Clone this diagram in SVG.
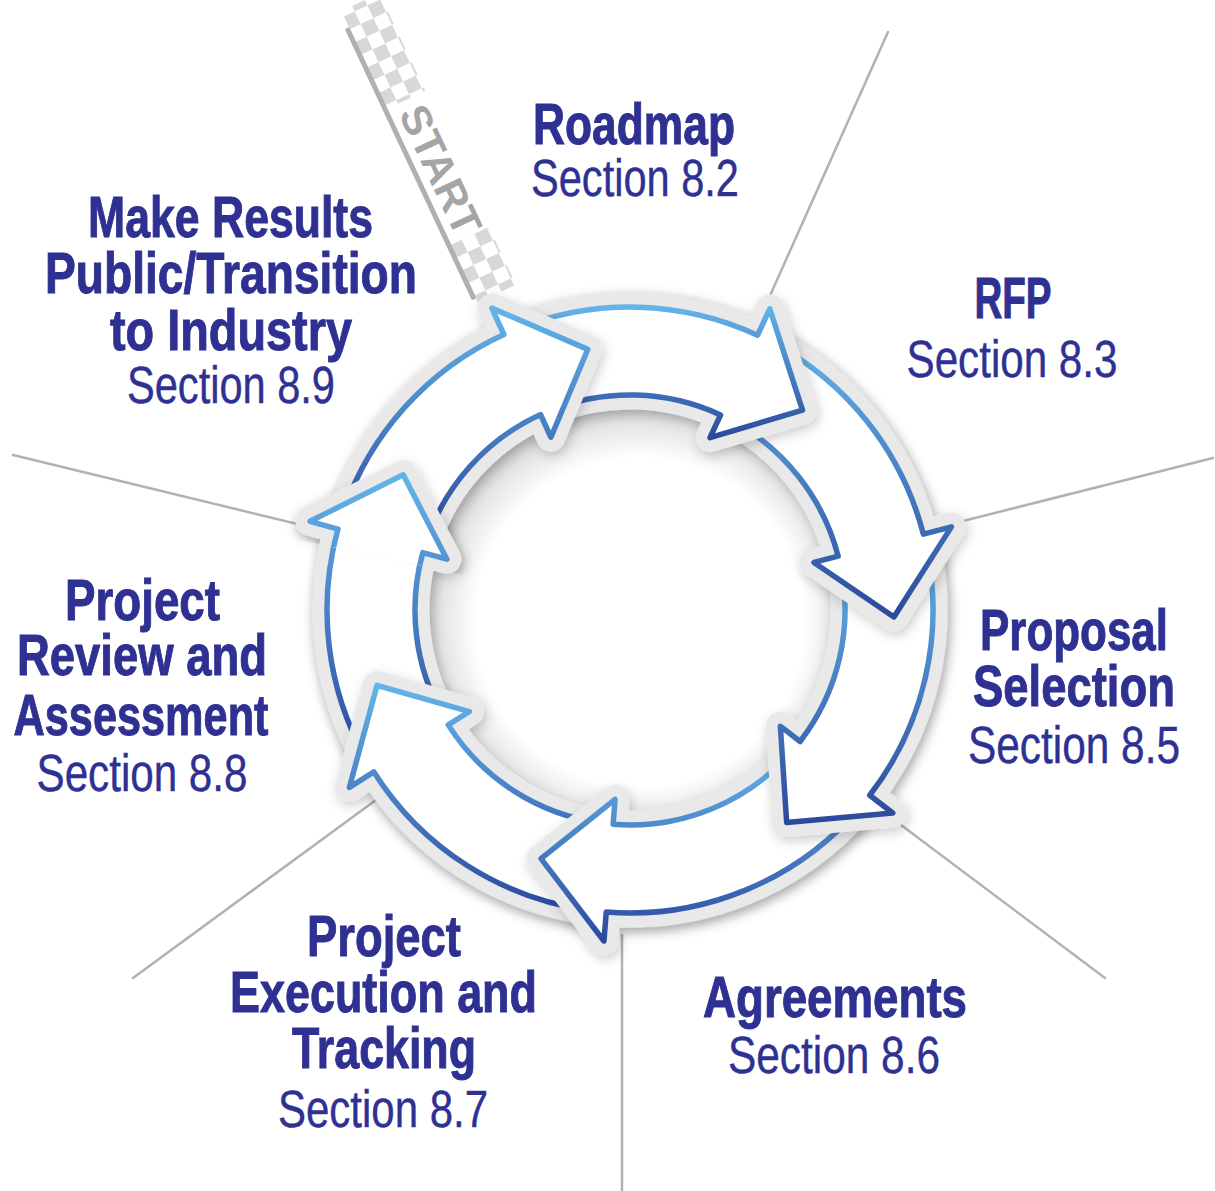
<svg xmlns="http://www.w3.org/2000/svg" width="1215" height="1191" viewBox="0 0 1215 1191">
  <style>
    .div { stroke: #b2b2b2; stroke-width: 2.5; fill: none; stroke-linecap: round; }
    .halo { fill: #e9e9e9; stroke: #e9e9e9; stroke-width: 29; stroke-linejoin: round; }
    .arw { fill: #ffffff; stroke: url(#blueGrad); stroke-width: 5.5; stroke-linejoin: round; }
    .tb { font-family: "Liberation Sans", Arial, sans-serif; font-weight: 700; font-size: 57px; fill: #2e3192; stroke: #2e3192; stroke-width: 1; text-anchor: middle; }
    .tr { font-family: "Liberation Sans", Arial, sans-serif; font-weight: 400; font-size: 51px; fill: #2e3192; stroke: #2e3192; stroke-width: 0.4; text-anchor: middle; }
  </style>
  <defs>
    <linearGradient id="blueGrad" x1="0" y1="0" x2="0" y2="1">
      <stop offset="0" stop-color="#63b4ea"/>
      <stop offset="1" stop-color="#2c4a9d"/>
    </linearGradient>
    <radialGradient id="holeGrad" gradientUnits="userSpaceOnUse" cx="640" cy="622" r="216">
      <stop offset="0" stop-color="#ffffff"/>
      <stop offset="0.76" stop-color="#ffffff"/>
      <stop offset="0.92" stop-color="#e4e4e4"/>
      <stop offset="1" stop-color="#c6c6c6"/>
    </radialGradient>
    <filter id="shadow" x="-30%" y="-30%" width="160%" height="160%">
      <feDropShadow dx="2" dy="4" stdDeviation="6" flood-color="#000" flood-opacity="0.2"/>
    </filter>
    <pattern id="checker" patternUnits="userSpaceOnUse" width="28" height="28">
      <rect x="0" y="0" width="14" height="14" fill="#d8d8d8"/>
      <rect x="14" y="14" width="14" height="14" fill="#d8d8d8"/>
    </pattern>
    <clipPath id="headClipG">
      <polygon points="630,610 219,523 290,363"/>
    </clipPath>
    <!-- arrow outlines: body arc from tail to head base, then the arrowhead -->
    <path id="pA" d="M342.66,513.86 A303,303 0 0 1 503.87,334.50 L491.79,308.13 L587.79,349.40 L550.91,437.25 L540.50,414.51 A215,215 0 0 0 426.11,541.78 Z"/>
    <path id="pB" d="M518.46,328.28 A303,303 0 0 1 757.57,335.17 L769.78,308.86 L802.50,410.15 L710.00,437.66 L720.52,414.99 A215,215 0 0 0 550.85,410.10 Z"/>
    <path id="pC" d="M771.78,342.22 A303,303 0 0 1 923.35,534.14 L951.43,526.87 L893.91,616.91 L813.95,562.43 L838.15,556.17 A215,215 0 0 0 730.60,419.99 Z"/>
    <path id="pD" d="M926.92,549.59 A303,303 0 0 1 869.74,795.29 L892.69,813.03 L786.66,822.49 L780.33,726.19 L800.11,741.48 A215,215 0 0 0 840.68,567.14 Z"/>
    <path id="pE" d="M859.71,807.59 A303,303 0 0 1 606.23,912.07 L603.95,940.98 L541.01,858.55 L615.09,799.41 L613.13,824.34 A215,215 0 0 0 793.00,750.20 Z"/>
    <path id="pF" d="M590.45,910.41 A303,303 0 0 1 373.89,771.91 L349.37,787.41 L377.00,685.42 L469.40,711.53 L448.27,724.89 A215,215 0 0 0 601.94,823.16 Z"/>
    <path id="pG" d="M365.76,758.28 A303,303 0 0 1 338.02,529.03 L310.07,521.28 L403.23,474.82 L446.91,559.22 L422.82,552.54 A215,215 0 0 0 442.50,715.22 Z"/>
  </defs>

  <rect width="1215" height="1191" fill="#ffffff"/>

  <!-- sector dividers -->
  <g id="dividers">
    <line class="div" x1="888" y1="32" x2="760" y2="318"/>
    <line class="div" x1="1213" y1="458" x2="951" y2="524"/>
    <line class="div" x1="1105" y1="978" x2="885" y2="813"/>
    <line class="div" x1="622" y1="1191" x2="622" y2="935"/>
    <line class="div" x1="133" y1="978" x2="380" y2="797"/>
    <line class="div" x1="13" y1="455" x2="314" y2="528"/>
  </g>

  <!-- start flag strip -->
  <g id="start-strip" transform="translate(348,30) rotate(64.9)">
    <rect x="-20" y="-44" width="108" height="42" fill="url(#checker)"/>
    <rect x="238" y="-44" width="64" height="42" fill="url(#checker)"/>
    <line x1="0" y1="0" x2="295" y2="0" stroke="#b0b0b0" stroke-width="5" stroke-linecap="round"/>
    <text x="166" y="-10" font-family="Liberation Sans, Arial, sans-serif" font-weight="700" font-size="42" fill="#a5a5a5" text-anchor="middle" textLength="138" lengthAdjust="spacingAndGlyphs">START</text>
  </g>

  <!-- ring base and centre -->
  <circle cx="630" cy="610" r="259" fill="none" stroke="#e9e9e9" stroke-width="118" filter="url(#shadow)"/>
  <circle cx="630" cy="610" r="201" fill="url(#holeGrad)"/>

  <!-- cycle arrows, each head laid over the next arrow's tail -->
  <g id="cycle-arrows">
    <g id="arrow-review">
      <use href="#pG" class="halo" filter="url(#shadow)"/>
      <use href="#pG" class="arw"/>
    </g>
    <g id="arrow-execution">
      <use href="#pF" class="halo" filter="url(#shadow)"/>
      <use href="#pF" class="arw"/>
    </g>
    <g id="arrow-agreements">
      <use href="#pE" class="halo" filter="url(#shadow)"/>
      <use href="#pE" class="arw"/>
    </g>
    <g id="arrow-selection">
      <use href="#pD" class="halo" filter="url(#shadow)"/>
      <use href="#pD" class="arw"/>
    </g>
    <g id="arrow-rfp">
      <use href="#pC" class="halo" filter="url(#shadow)"/>
      <use href="#pC" class="arw"/>
    </g>
    <g id="arrow-roadmap">
      <use href="#pB" class="halo" filter="url(#shadow)"/>
      <use href="#pB" class="arw"/>
    </g>
    <g id="arrow-transition">
      <use href="#pA" class="halo" filter="url(#shadow)"/>
      <use href="#pA" class="arw"/>
    </g>
    <!-- head of the review arrow sits above the transition arrow's tail -->
    <g id="arrow-review-head" clip-path="url(#headClipG)">
      <use href="#pG" class="halo" filter="url(#shadow)"/>
      <use href="#pG" class="arw"/>
    </g>
  </g>

  <!-- labels -->
  <g id="node-roadmap">
    <text class="tb" x="634" y="144" textLength="202" lengthAdjust="spacingAndGlyphs">Roadmap</text>
    <text class="tr" x="635" y="196" textLength="208" lengthAdjust="spacingAndGlyphs">Section 8.2</text>
  </g>
  <g id="node-rfp">
    <text class="tb" x="1013" y="318" textLength="77" lengthAdjust="spacingAndGlyphs">RFP</text>
    <text class="tr" x="1012" y="377" textLength="211" lengthAdjust="spacingAndGlyphs">Section 8.3</text>
  </g>
  <g id="node-proposal">
    <text class="tb" x="1074" y="650" textLength="188" lengthAdjust="spacingAndGlyphs">Proposal</text>
    <text class="tb" x="1074" y="706" textLength="202" lengthAdjust="spacingAndGlyphs">Selection</text>
    <text class="tr" x="1074" y="763" textLength="212" lengthAdjust="spacingAndGlyphs">Section 8.5</text>
  </g>
  <g id="node-agreements">
    <text class="tb" x="835" y="1017" textLength="264" lengthAdjust="spacingAndGlyphs">Agreements</text>
    <text class="tr" x="834" y="1073" textLength="212" lengthAdjust="spacingAndGlyphs">Section 8.6</text>
  </g>
  <g id="node-execution">
    <text class="tb" x="384" y="956" textLength="154" lengthAdjust="spacingAndGlyphs">Project</text>
    <text class="tb" x="383.5" y="1012" textLength="307" lengthAdjust="spacingAndGlyphs">Execution and</text>
    <text class="tb" x="384" y="1068" textLength="184" lengthAdjust="spacingAndGlyphs">Tracking</text>
    <text class="tr" x="383" y="1127" textLength="210" lengthAdjust="spacingAndGlyphs">Section 8.7</text>
  </g>
  <g id="node-review">
    <text class="tb" x="142.5" y="620" textLength="155" lengthAdjust="spacingAndGlyphs">Project</text>
    <text class="tb" x="142" y="675" textLength="250" lengthAdjust="spacingAndGlyphs">Review and</text>
    <text class="tb" x="141" y="735" textLength="255" lengthAdjust="spacingAndGlyphs">Assessment</text>
    <text class="tr" x="142" y="791" textLength="211" lengthAdjust="spacingAndGlyphs">Section 8.8</text>
  </g>
  <g id="node-transition">
    <text class="tb" x="230.5" y="237" textLength="285" lengthAdjust="spacingAndGlyphs">Make Results</text>
    <text class="tb" x="231" y="293" textLength="372" lengthAdjust="spacingAndGlyphs">Public/Transition</text>
    <text class="tb" x="231" y="350" textLength="242" lengthAdjust="spacingAndGlyphs">to Industry</text>
    <text class="tr" x="231" y="403" textLength="208" lengthAdjust="spacingAndGlyphs">Section 8.9</text>
  </g>
</svg>
